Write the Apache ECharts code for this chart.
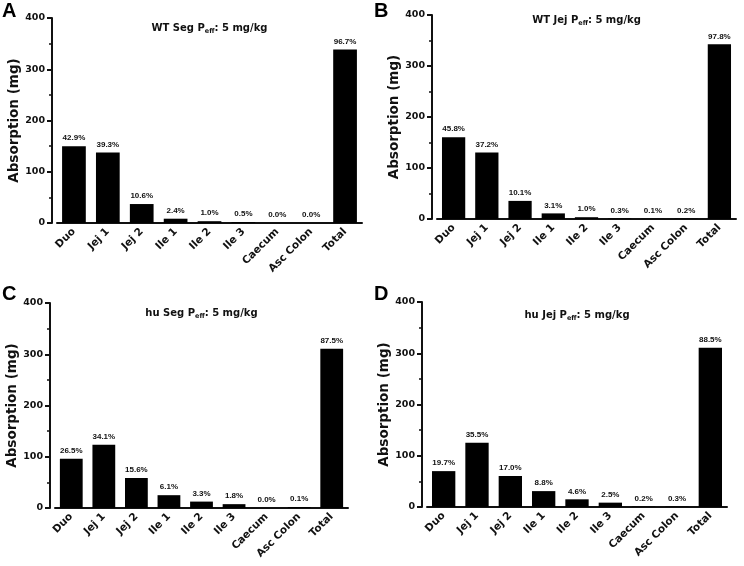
<!DOCTYPE html>
<html>
<head>
<meta charset="utf-8">
<script src="https://cdn.jsdelivr.net/npm/echarts@6/dist/echarts.min.js"></script>
<style>
html, body { margin: 0; background: #fff; }
#main { width: 744px; height: 566px; }
</style>
</head>
<body>
<div id="main"></div>
<script>
// categories along every x axis
var categories = ['Duo', 'Jej 1', 'Jej 2', 'Ile 1', 'Ile 2', 'Ile 3', 'Caecum', 'Asc Colon', 'Total'];

// absorption (mg)
var wtSeg = [150, 137.5, 37, 8.4, 3.5, 1.8, 0, 0, 338.5];
var wtJej = [160.5, 130.5, 35.5, 11, 3.5, 1, 0.4, 0.7, 342.5];
var huSeg = [96, 123.5, 58.5, 25, 12.5, 7.5, 0, 2, 310.5];
var huJej = [70, 125.5, 60.5, 31, 15, 8.5, 0.7, 1, 310.5];

// percent labels above the bars
var wtSegPct = ['42.9%', '39.3%', '10.6%', '2.4%', '1.0%', '0.5%', '0.0%', '0.0%', '96.7%'];
var wtJejPct = ['45.8%', '37.2%', '10.1%', '3.1%', '1.0%', '0.3%', '0.1%', '0.2%', '97.8%'];
var huSegPct = ['26.5%', '34.1%', '15.6%', '6.1%', '3.3%', '1.8%', '0.0%', '0.1%', '87.5%'];
var huJejPct = ['19.7%', '35.5%', '17.0%', '8.8%', '4.6%', '2.5%', '0.2%', '0.3%', '88.5%'];

var panelLetters = ['A', 'B', 'C', 'D'];
var panelNames = ['WT Seg', 'WT Jej', 'hu Seg', 'hu Jej'];
var panelValues = [wtSeg, wtJej, huSeg, huJej];
var panelPcts = [wtSegPct, wtJejPct, huSegPct, huJejPct];

// layout of the 4 panels
var grids = [
    { left: 57, right: 382, top: 18, bottom: 343 },
    { left: 437, right: 8, top: 15, bottom: 347 },
    { left: 55, right: 396, top: 303, bottom: 58 },
    { left: 427, right: 17, top: 302, bottom: 59 }
];
var letterPos = [[2, 1], [374, 1], [2, 284], [374, 284]];
var titleTop = [21, 13, 306, 308];

var ink = '#111';
var wide = 'DejaVu Sans';

var myChart = echarts.init(document.getElementById('main'));

var titles = [];
var xAxes = [];
var yAxes = [];
var series = [];

grids.forEach(function (g, i) {
    titles.push({
        text: panelLetters[i],
        left: letterPos[i][0],
        top: letterPos[i][1],
        padding: 0,
        textStyle: { fontFamily: 'Liberation Sans', fontWeight: 'bold', fontSize: 20, color: '#000' }
    });
    var cx = g.left + (744 - g.left - g.right) / 2;
    titles.push({
        text: '{b|' + panelNames[i] + ' P}{s|eff}{b|: 5 mg/kg}',
        left: cx,
        textAlign: 'center',
        top: titleTop[i],
        padding: 0,
        textStyle: {
            rich: {
                b: { fontFamily: wide, fontWeight: 'bold', fontSize: 10, color: ink, lineHeight: 14 },
                s: { fontFamily: wide, fontWeight: 'bold', fontSize: 6.5, color: ink, lineHeight: 14, verticalAlign: 'bottom', padding: [6, 0, 0, 0] }
            }
        }
    });

    xAxes.push({
        gridIndex: i,
        type: 'category',
        data: categories,
        axisLine: { lineStyle: { color: ink, width: 2 } },
        axisTick: { alignWithLabel: true, length: 3, lineStyle: { color: ink, width: 1.5 } },
        axisLabel: {
            rotate: 45, interval: 0, margin: 7, color: ink,
            fontFamily: wide, fontWeight: 'bold', fontSize: 10.5
        }
    });

    yAxes.push({
        gridIndex: i,
        type: 'value',
        min: 0,
        max: 400,
        interval: 100,
        offset: 5,
        splitLine: { show: false },
        axisLine: { show: true, lineStyle: { color: ink, width: 2 } },
        axisTick: { show: true, length: 5, lineStyle: { color: ink, width: 2 } },
        minorTick: { show: true, splitNumber: 2, length: 3, lineStyle: { color: ink, width: 1.5 } },
        axisLabel: { color: ink, fontFamily: wide, fontWeight: 'bold', fontSize: 9.5, margin: 7 },
        name: 'Absorption (mg)',
        nameLocation: 'middle',
        nameGap: 27,
        nameTextStyle: { color: ink, fontFamily: wide, fontWeight: 'bold', fontSize: 13.5 }
    });

    series.push({
        type: 'bar',
        xAxisIndex: i,
        yAxisIndex: i,
        data: panelValues[i],
        barCategoryGap: '30%',
        itemStyle: { color: '#000' },
        label: {
            show: true,
            position: 'top',
            distance: 4,
            color: ink,
            fontFamily: 'Liberation Sans',
            fontWeight: 'bold',
            fontSize: 8,
            formatter: function (p) { return panelPcts[i][p.dataIndex]; }
        }
    });
});

myChart.setOption({
    animation: false,
    backgroundColor: '#fff',
    title: titles,
    grid: grids,
    xAxis: xAxes,
    yAxis: yAxes,
    series: series
});
</script>
</body>
</html>
